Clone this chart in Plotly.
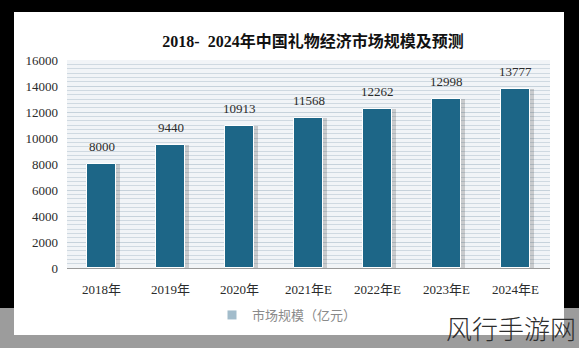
import plotly.graph_objects as go

# Market size of China's gift economy, 2018-2024 (forecast from 2021)
years = ["2018年", "2019年", "2020年", "2021年E", "2022年E", "2023年E", "2024年E"]
market_size = [8000, 9440, 10913, 11568, 12262, 12998, 13777]
y_ticks = [0, 2000, 4000, 6000, 8000, 10000, 12000, 14000, 16000]
y_tick_labels = [str(v) for v in y_ticks]

W, H = 579, 348
L, R, T, B = 67, 29, 60, 80
PW, PH = W - L - R, H - T - B


def px_x(p):
    return (p - L) / PW


def px_y(p):
    return (H - B - p) / PH


BAR = "#1d6687"
TXT = "#2b2b2b"
LATIN = "Liberation Serif, Noto Sans CJK SC, serif"

fig = go.Figure()

# soft drop shadow behind each bar
fig.add_trace(go.Bar(
    x=years, y=market_size, width=0.47, offset=-0.2,
    marker=dict(color="rgba(60,60,60,0.22)", line=dict(width=0)),
    hoverinfo="skip", showlegend=False,
))
fig.add_trace(go.Bar(
    x=years, y=market_size, width=0.42, offset=-0.21,
    marker=dict(color=BAR, line=dict(color="white", width=1)),
    showlegend=False,
))
# legend entry
fig.add_trace(go.Scatter(
    x=[None], y=[None], mode="markers", name="市场规模（亿元）",
    marker=dict(symbol="square", size=9, color="#a2bccb"),
))

for yr, v in zip(years, market_size):
    fig.add_annotation(
        x=yr, y=v, text=str(v), showarrow=False, yanchor="bottom", yshift=8,
        font=dict(family=LATIN, size=13, color=TXT),
    )

shapes = []
# dark backdrop around the card
for x0, y0, x1, y1, col in [
    (0, 0, W, 12, "black"),
    (0, 0, 14, 308, "black"),
    (564, 0, W, 308, "black"),
    (0, 308, 14, H, "#9c9c9c"),
    (564, 308, W, H, "#9c9c9c"),
    (0, 335, W, H, "#9c9c9c"),
]:
    shapes.append(dict(
        type="rect", xref="paper", yref="paper", layer="above",
        x0=px_x(x0), x1=px_x(x1), y0=px_y(y1), y1=px_y(y0),
        fillcolor=col, line=dict(width=0),
    ))

fig.update_layout(
    width=W, height=H,
    margin=dict(l=L, r=R, t=T, b=B, pad=0),
    paper_bgcolor="white",
    plot_bgcolor="#f1f4f7",
    barmode="overlay",
    bargap=0,
    shapes=shapes,
    title=dict(
        text="<b>2018-  2024年中国礼物经济市场规模及预测</b>",
        x=px_x(313), xref="paper", xanchor="center",
        y=1 - 41 / H, yref="container", yanchor="middle",
        font=dict(family=LATIN, size=16, color="#111"),
    ),
    legend=dict(
        orientation="h", x=px_x(287), xanchor="center",
        y=px_y(315), yanchor="middle",
        font=dict(family="Noto Sans CJK SC", size=13, color="#8a8a8a"),
        bgcolor="rgba(0,0,0,0)", itemwidth=30,
    ),
    xaxis=dict(
        showgrid=False, showline=True, linecolor="#9a9a9a", linewidth=1,
        ticks="", ticklabelstandoff=9,
        tickfont=dict(family=LATIN, size=13, color=TXT),
        fixedrange=True,
    ),
    yaxis=dict(
        range=[0, 16000], tickmode="array", tickvals=y_ticks, ticktext=y_tick_labels,
        showgrid=True, gridcolor="#c6d2db", gridwidth=1,
        minor=dict(dtick=2000 / 6, showgrid=True, gridcolor="#cfd9e1", gridwidth=1),
        zeroline=False, showline=False, ticks="", ticklabelstandoff=8,
        tickfont=dict(family=LATIN, size=13, color=TXT),
        fixedrange=True,
    ),
)

fig.add_annotation(
    text="风行手游网", xref="paper", yref="paper",
    x=px_x(578), y=px_y(327), xanchor="right", yanchor="middle",
    showarrow=False,
    font=dict(family="Noto Sans CJK SC", size=26, color="#2e2e2e", weight=300),
)

fig.write_html("out.html")
